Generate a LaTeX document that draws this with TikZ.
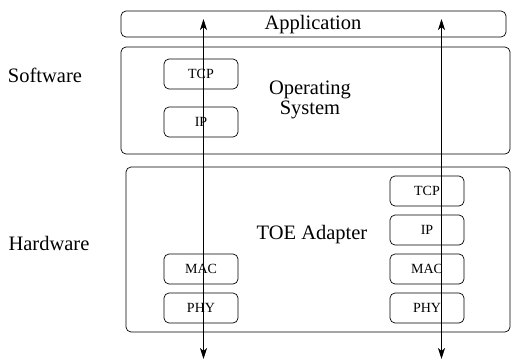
\documentclass[tikz,border=0pt]{standalone}
\usepackage{fontspec}
\setmainfont{Liberation Serif}
\usetikzlibrary{arrows.meta}
\begin{document}
\begin{tikzpicture}[x=1pt,y=-1pt,
  layerbox/.style={draw, rounded corners=5pt, line width=0.7pt, inner sep=0pt},
  proto/.style={draw, rounded corners=5pt, line width=0.7pt, inner sep=0pt,
    minimum width=74pt, minimum height=30pt, font=\fontsize{14}{14}\selectfont},
  big/.style={font=\fontsize{20.5}{20}\selectfont, inner sep=0pt},
  flow/.style={line width=0.7pt, {Stealth[length=11pt,width=7pt,inset=3pt]}-{Stealth[length=11pt,width=7pt,inset=3pt]}}]
\useasboundingbox (0,0) rectangle (511,360);

% layers
\node[layerbox, minimum width=385pt, minimum height=26pt] (app) at (313.5,24) {};
\node[layerbox, minimum width=389pt, minimum height=107pt] (os) at (315.5,100.5) {};
\node[layerbox, minimum width=384pt, minimum height=165pt] (hw) at (318,249.5) {};

\node[big] (apptext) at (313,25) {Application};
\node[big, align=center] (ostext) at (310,99.5) {Operating\\System};
\node[big] (toetext) at (312,235) {TOE Adapter};

\node[big] (sw) at (45,75) {Software};
\node[big] (hwlabel) at (49,243) {Hardware};

% host stack
\node[proto] (ostcp) at (201,74) {TCP};
\node[proto] (osip) at (201,122) {IP};
\node[proto] (lmac) at (201,269) {MAC};
\node[proto] (lphy) at (201,308) {PHY};

% offload stack
\node[proto] (rtcp) at (427,191) {TCP};
\node[proto] (rip) at (427,230) {IP};
\node[proto] (rmac) at (427,269) {MAC};
\node[proto] (rphy) at (427,308) {PHY};

% data paths
\coordinate (ltop) at (203.5,19);
\coordinate (lbot) at (203.5,359);
\coordinate (rtop) at (441.5,19);
\coordinate (rbot) at (441.5,359);
\draw[flow] (lbot) -- (ltop);
\draw[flow] (rbot) -- (rtop);
\end{tikzpicture}
\end{document}
